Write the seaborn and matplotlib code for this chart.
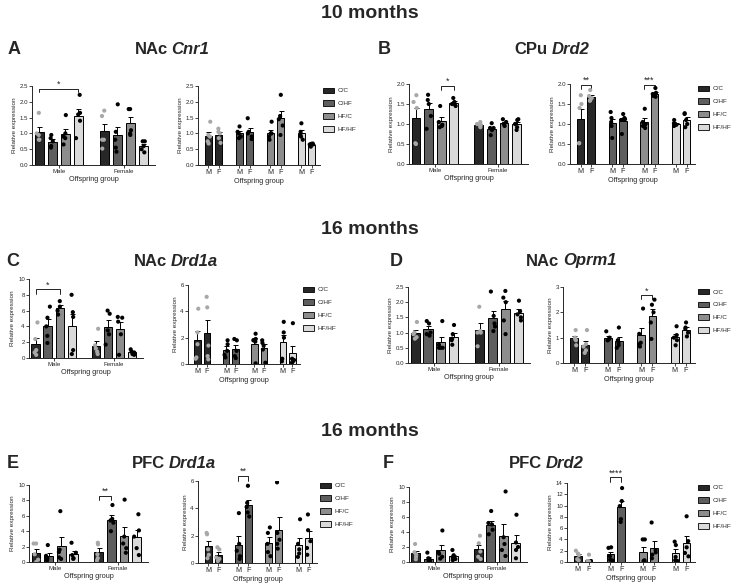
import numpy as np
import pandas as pd
import seaborn as sns
import matplotlib.pyplot as plt
from matplotlib.patches import Patch

W, H = 740, 588

groups = ['C/C', 'C/HF', 'HF/C', 'HF/HF']
sexes = ['Male', 'Female']
bar_colors = {'C/C': '#272727', 'C/HF': '#5e5e5e', 'HF/C': '#8d8d8d', 'HF/HF': '#dadada'}
dot_colors = {'C/C': '#a8a8a8', 'C/HF': 'black', 'HF/C': 'black', 'HF/HF': 'black'}

# left panels: Male C/C, C/HF, HF/C, HF/HF, then Female in same order
# right panels: C/C M, C/C F, C/HF M, C/HF F, HF/C M, HF/C F, HF/HF M, HF/HF F
a_sex = [[1.65, 1.0, 0.8, 0.8, 0.95], [0.95, 0.85, 0.75, 0.6, 0.55], [1.58, 1.0, 0.9, 0.85, 0.65],
         [2.22, 1.65, 1.6, 1.4, 0.85], [1.72, 1.55, 0.8, 0.8, 0.52], [1.92, 1.05, 0.8, 0.55, 0.42],
         [1.77, 1.77, 1.1, 1.0, 0.95], [0.75, 0.75, 0.6, 0.5, 0.4]]
a_grp = [[1.37, 0.95, 0.9, 0.75, 0.68], [1.15, 1.05, 1.0, 0.85, 0.7], [1.22, 1.05, 1.0, 0.9, 0.85],
         [1.48, 1.05, 1.0, 0.9, 0.82], [1.37, 1.0, 1.0, 0.9, 0.8], [2.22, 1.55, 1.45, 1.25, 0.95],
         [1.32, 1.05, 0.95, 0.9, 0.8], [0.68, 0.67, 0.65, 0.65, 0.58]]

b_sex = [[1.72, 1.55, 1.4, 0.52, 0.5], [1.73, 1.6, 1.5, 1.2, 0.88], [1.45, 1.05, 0.98, 0.95, 0.92],
         [1.65, 1.55, 1.5, 1.5, 1.45], [1.05, 1.0, 0.98, 0.95, 0.92], [1.02, 0.9, 0.9, 0.85, 0.72],
         [1.12, 1.05, 1.0, 1.0, 0.95], [1.12, 1.1, 1.0, 0.92, 0.85]]
b_grp = [[1.72, 1.5, 1.4, 0.52, 0.52], [1.85, 1.7, 1.65, 1.6, 1.58], [1.3, 1.15, 1.05, 0.95, 0.65],
         [1.25, 1.15, 1.12, 1.1, 0.75], [1.38, 1.05, 1.0, 0.95, 0.9], [1.9, 1.78, 1.75, 1.7, 1.68],
         [1.1, 1.02, 1.0, 0.98, 0.95], [1.27, 1.25, 1.1, 1.0, 0.92]]

c_sex = [[4.5, 2.4, 1.0, 0.7, 0.4], [6.5, 5.1, 4.0, 2.8, 1.9], [7.2, 6.5, 6.0, 5.5],
         [8.0, 5.8, 5.2, 1.0, 0.5], [3.7, 1.6, 1.2, 0.8, 0.5], [6.0, 5.6, 3.5, 3.0, 1.7],
         [5.2, 5.1, 4.6, 3.0, 0.4], [1.1, 0.8, 0.7, 0.5, 0.4]]
c_grp = [[4.2, 2.4, 1.5, 0.5, 0.4], [5.1, 4.3, 1.4, 0.6, 0.35], [1.8, 1.5, 1.0, 0.7, 0.5],
         [1.9, 1.8, 1.0, 0.6, 0.45], [2.3, 1.9, 1.8, 1.7, 0.05], [1.8, 1.6, 1.4, 1.1, 0.1],
         [3.2, 2.4, 2.0, 0.4, 0.2], [3.1, 0.4, 0.3, 0.2, 0.1]]

d_sex = [[1.35, 1.0, 0.95, 0.85, 0.8], [1.38, 1.3, 1.0, 0.95, 0.9], [1.38, 0.6, 0.5, 0.5, 0.5],
         [1.25, 0.95, 0.8, 0.75, 0.6], [1.85, 1.05, 1.0, 1.0, 0.55], [2.35, 1.55, 1.3, 1.2, 1.05],
         [2.37, 2.15, 2.0, 1.4, 0.95], [2.05, 1.7, 1.6, 1.5, 1.4]]
d_grp = [[1.3, 1.0, 0.95, 0.9, 0.7], [1.3, 0.75, 0.65, 0.5, 0.4], [1.25, 1.0, 0.95, 0.9, 0.9],
         [1.4, 0.9, 0.8, 0.7, 0.6], [2.15, 1.15, 0.8, 0.75, 0.65], [2.5, 2.3, 2.0, 1.6, 0.95],
         [1.45, 1.1, 1.0, 0.9, 0.7], [1.6, 1.4, 1.35, 1.2, 1.05]]

e_sex = [[2.4, 2.4, 1.0, 0.3, 0.0], [2.2, 0.8, 0.5, 0.3, 0.2], [6.6, 1.6, 1.3, 0.6, 0.4],
         [2.5, 1.2, 0.9, 0.5, 0.4], [2.5, 2.3, 1.0, 0.5, 0.2], [7.4, 5.6, 5.4, 5.1, 4.0],
         [8.1, 3.3, 2.4, 1.8, 1.2], [6.2, 4.1, 3.3, 1.8, 0.9]]
e_grp = [[2.2, 2.1, 1.0, 0.6, 0.35], [1.15, 1.0, 0.4, 0.3, 0.15], [3.65, 1.4, 0.9, 0.5, 0.3],
         [5.65, 4.4, 4.1, 3.7, 3.4], [2.6, 2.2, 1.4, 0.8, 0.5], [5.9, 2.2, 1.7, 1.4, 1.05],
         [3.2, 1.4, 1.0, 0.7, 0.45], [3.55, 2.4, 1.6, 1.1, 0.6]]

f_sex = [[2.4, 1.3, 1.0, 0.7, 0.35], [1.25, 0.5, 0.3, 0.1, 0.1], [4.2, 1.3, 1.1, 0.7, 0.45],
         [1.6, 0.9, 0.6, 0.4, 0.25], [3.5, 2.5, 1.4, 0.7, 0.4], [6.8, 5.2, 5.0, 4.3, 3.7],
         [9.4, 3.3, 2.4, 1.6, 0.8], [6.3, 2.6, 2.0, 1.6, 0.5]]
f_grp = [[2.0, 1.5, 1.2, 0.5, 0.3], [1.3, 0.2, 0.1, 0.1, 0.05], [2.6, 2.5, 1.0, 0.4, 0.25],
         [13.1, 10.8, 9.9, 7.6, 7.1], [4.0, 4.0, 0.3, 0.2, 0.0], [7.0, 2.1, 1.7, 1.3, 0.65],
         [3.6, 3.0, 0.9, 0.3, 0.2], [8.1, 3.7, 2.6, 1.6, 1.0]]

sns.set_style('ticks')
plt.rcParams['font.family'] = ['Liberation Sans', 'DejaVu Sans']
np.random.seed(2)

fig = plt.figure(figsize=(W / 100, H / 100), dpi=100)


def box(l, r, t, b):
    return fig.add_axes([l / W, 1 - b / H, (r - l) / W, (b - t) / H])


def draw(ax, slots, labels, pts, order, yticks, fmt):
    rows = []
    for s, g, vals in zip(slots, labels, pts):
        for v in vals:
            rows.append((s, g, v))
    df = pd.DataFrame(rows, columns=['slot', 'group', 'val'])
    sns.barplot(df, x='slot', y='val', order=order, hue='group', palette=bar_colors,
                errorbar=None, width=0.7, edgecolor='black', linewidth=0.7, legend=False, ax=ax)
    st = df.groupby('slot')['val'].agg(['mean', 'sem'])
    xs = [order.index(s) for s in st.index]
    ax.errorbar(xs, st['mean'], yerr=[np.zeros(len(xs)), st['sem']], fmt='none',
                ecolor='black', elinewidth=0.7, capsize=1.8, capthick=0.7, zorder=3)
    sns.stripplot(df, x='slot', y='val', order=order, hue='group', palette=dot_colors,
                  jitter=0.2, size=3.0, linewidth=0, legend=False, ax=ax, zorder=4)
    ax.set_ylim(0, yticks[-1])
    ax.set_yticks(yticks)
    ax.set_yticklabels([fmt.format(v) for v in yticks])
    ax.set_ylabel('Relative expression', fontsize=4.6, labelpad=2)
    ax.set_xlabel('Offspring group', fontsize=5.2, labelpad=1)
    ax.tick_params(labelsize=4.4, length=2, width=0.6, pad=1)
    sns.despine(ax=ax)
    for sp in ['left', 'bottom']:
        ax.spines[sp].set_linewidth(0.7)


def left_panel(ax, pts, yticks, fmt='{:.0f}'):
    slots = [f'{s} {g}' for s in sexes for g in groups]
    order = slots[:4] + ['gap'] + slots[4:]
    draw(ax, slots, groups * 2, pts, order, yticks, fmt)
    ax.set_xlim(-0.55, 8.9)
    ax.set_xticks([1.5, 6.5])
    ax.set_xticklabels(sexes)


def right_panel(ax, pts, yticks, fmt='{:.0f}'):
    slots = [f'{g} {s}' for g in groups for s in 'MF']
    order = []
    for k, g in enumerate(groups):
        order += [f'{g} M', f'{g} F'] + ([f'gap{k}'] if k < 3 else [])
    draw(ax, slots, [g for g in groups for s in 'MF'], pts, order, yticks, fmt)
    ax.set_xlim(-1.0, 10.8)
    pos = [order.index(s) for s in slots]
    ax.set_xticks(pos)
    ax.set_xticklabels(['M', 'F'] * 4, fontsize=5.2)
    handles = [Patch(facecolor=bar_colors[g], edgecolor='black', linewidth=0.6, label=g) for g in groups]
    ax.legend(handles=handles, loc='upper left', bbox_to_anchor=(1.0, 1.02), frameon=False,
              fontsize=4.6, handlelength=1.7, handleheight=0.9, labelspacing=1.1,
              handletextpad=0.6, borderpad=0.2, borderaxespad=0.3)


def bracket(ax, x1, x2, y, drop, label):
    ax.plot([x1, x1, x2, x2], [y - drop, y, y, y - drop], color='black', lw=0.6, clip_on=False)
    ax.text((x1 + x2) / 2, y, label, ha='center', va='bottom', fontsize=6.5, clip_on=False)


def row_title(y, txt):
    fig.text(370 / W, 1 - y / H, txt, ha='center', va='center', fontsize=14, fontweight='bold')


def panel_title(x, y, letter_x, letter, region, gene):
    fig.text(letter_x / W, 1 - y / H, letter, ha='left', va='center', fontsize=13, fontweight='bold')
    r = fig.canvas.get_renderer()
    t1 = fig.text(0, 1 - y / H, region, va='center', fontsize=12, fontweight='bold')
    t2 = fig.text(0, 1 - y / H, gene, va='center', fontsize=12, fontweight='bold', fontstyle='italic')
    w1 = t1.get_window_extent(r).width
    w2 = t2.get_window_extent(r).width
    gap = 4
    x0 = x - (w1 + gap + w2) / 2
    t1.set_x(x0 / W)
    t2.set_x((x0 + w1 + gap) / W)


row_title(14, '10 months')
row_title(230, '16 months')
row_title(432, '16 months')

panel_title(172, 50, 8, 'A', 'NAc', 'Cnr1')
panel_title(552, 50, 378, 'B', 'CPu', 'Drd2')
panel_title(176, 261, 6, 'C', 'NAc', 'Drd1a')
panel_title(571, 261, 390, 'D', 'NAc', 'Oprm1')
panel_title(174, 464, 7, 'E', 'PFC', 'Drd1a')
panel_title(546, 464, 383, 'F', 'PFC', 'Drd2')

# row 1
ax = box(32, 155, 86, 165)
left_panel(ax, a_sex, [0, 0.5, 1.0, 1.5, 2.0, 2.5], '{:.1f}')
bracket(ax, 0, 3, 2.42, 0.12, '*')
ax = box(198, 320, 86, 165)
right_panel(ax, a_grp, [0, 0.5, 1.0, 1.5, 2.0, 2.5], '{:.1f}')

ax = box(409, 528, 84, 164)
left_panel(ax, b_sex, [0, 0.5, 1.0, 1.5, 2.0], '{:.1f}')
bracket(ax, 2, 3, 1.95, 0.1, '*')
ax = box(570, 695, 84, 164)
right_panel(ax, b_grp, [0, 0.5, 1.0, 1.5, 2.0], '{:.1f}')
bracket(ax, 0, 1, 1.97, 0.1, '**')
bracket(ax, 6, 7, 1.97, 0.1, '***')

# row 2
ax = box(29, 143, 279, 358)
left_panel(ax, c_sex, [0, 2, 4, 6, 8, 10])
bracket(ax, 0, 2, 8.7, 0.6, '*')
ax = box(188, 300, 285, 364)
right_panel(ax, c_grp, [0, 2, 4, 6])

ax = box(408, 530, 287, 363)
left_panel(ax, d_sex, [0, 0.5, 1.0, 1.5, 2.0, 2.5], '{:.1f}')
ax = box(563, 695, 287, 363)
right_panel(ax, d_grp, [0, 1, 2, 3])
bracket(ax, 6, 7, 2.67, 0.15, '*')

# row 3
ax = box(29, 148, 485, 562)
left_panel(ax, e_sex, [0, 2, 4, 6, 8, 10])
bracket(ax, 5, 6, 8.6, 0.6, '**')
ax = box(198, 317, 481, 563)
right_panel(ax, e_grp, [0, 2, 4, 6])
bracket(ax, 3, 4, 6.38, 0.4, '**')

ax = box(409, 527, 487, 562)
left_panel(ax, f_sex, [0, 2, 4, 6, 8, 10])
ax = box(567, 695, 483, 562)
right_panel(ax, f_grp, [0, 2, 4, 6, 8, 10, 12, 14])
bracket(ax, 3, 4, 15.0, 0.9, '****')

fig.savefig('out.png', dpi=100)
